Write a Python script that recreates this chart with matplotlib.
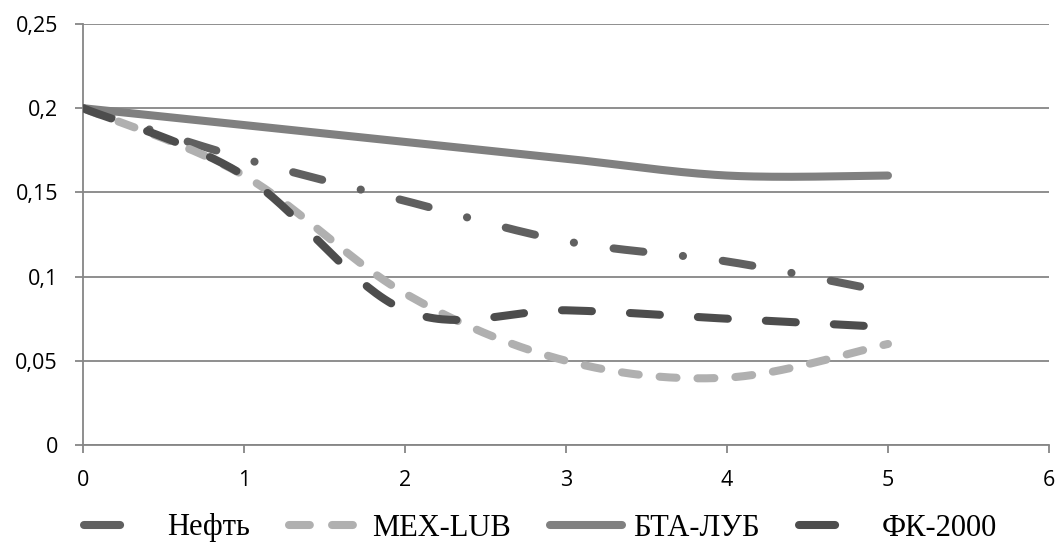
import numpy as np
import matplotlib
matplotlib.use("Agg")
import matplotlib.pyplot as plt
from matplotlib.ticker import FuncFormatter
from matplotlib.lines import Line2D

# values
x_neft = [0, 1, 2, 3, 4, 4.83]
y_neft = [0.2, 0.17, 0.145, 0.121, 0.109, 0.094]

x_std = [0, 1, 2, 3, 4, 5]
y_mex = [0.2, 0.16, 0.09, 0.05, 0.04, 0.06]
y_bta = [0.2, 0.19, 0.18, 0.17, 0.16, 0.16]
y_fk = [0.2, 0.16, 0.08, 0.08, 0.075, 0.07]

labels = ["Нефть", "MEX-LUB", "БТА-ЛУБ", "ФК-2000"]
colors = ["#606060", "#b0b0b0", "#808080", "#4d4d4d"]


# Excel-like smoothed line (Catmull-Rom through the points)
def smooth(xs, ys, n=40):
    p = np.column_stack([xs, ys]).astype(float)
    p = np.vstack([p[0], p, p[-1]])
    out = []
    for i in range(1, len(p) - 2):
        p0, p1, p2, p3 = p[i - 1], p[i], p[i + 1], p[i + 2]
        t = np.linspace(0, 1, n)[:, None]
        c = 0.5 * ((2 * p1) + (-p0 + p2) * t + (2 * p0 - 5 * p1 + 4 * p2 - p3) * t**2
                   + (-p0 + 3 * p1 - 3 * p2 + p3) * t**3)
        out.append(c if i == 1 else c[1:])
    c = np.vstack(out)
    return c[:, 0], c[:, 1]


plt.rcParams['lines.scale_dashes'] = False
plt.rcParams['font.family'] = ['Open Sans', 'DejaVu Sans']

fig = plt.figure(figsize=(10.6, 5.5), dpi=100)
ax = fig.add_axes([0.0783, 0.1909, 0.9113, 0.7655])

lw = 5.8
sx, sy = smooth(x_neft, y_neft)
ax.plot(sx, sy, color=colors[0], lw=lw, dash_capstyle="round",
        dashes=(21.6, 28.6, 0.1, 28.8), zorder=3)
sx, sy = smooth(x_std, y_mex)
ax.plot(sx, sy, color=colors[1], lw=lw, dash_capstyle="round",
        dashes=(12.2, 15.1), zorder=3)
sx, sy = smooth(x_std, y_bta)
ax.plot(sx, sy, color=colors[2], lw=lw, solid_capstyle="round", zorder=3)
sx, sy = smooth(x_std, y_fk)
ax.plot(sx, sy, color=colors[3], lw=lw, dash_capstyle="round",
        dashes=(21.6, 27.4), zorder=4)

ax.set_xlim(0, 6)
ax.set_ylim(0, 0.25)
ax.set_xticks(range(0, 7))
ax.set_yticks([0, 0.05, 0.1, 0.15, 0.2, 0.25])
ax.yaxis.set_major_formatter(FuncFormatter(lambda v, p: ("%g" % round(v, 2)).replace(".", ",")))

ax.grid(axis="y", color="#868686", lw=1.3)
ax.set_axisbelow(True)
for s in ["top", "right"]:
    ax.spines[s].set_visible(False)
for s in ["left", "bottom"]:
    ax.spines[s].set_color("#868686")
    ax.spines[s].set_linewidth(1.3)
ax.tick_params(axis="both", colors="#868686", width=1.3, length=6, labelcolor="black", labelsize=15.5)
ax.tick_params(axis="x", pad=12)
ax.tick_params(axis="y", pad=12)

# legend samples drawn the way the original shows them (short dashes)
handles = [
    Line2D([], [], color=colors[0], lw=lw, dash_capstyle="round", dashes=(26, 100)),
    Line2D([], [], color=colors[1], lw=lw, dash_capstyle="round", dashes=(15, 16)),
    Line2D([], [], color=colors[2], lw=lw, solid_capstyle="round"),
    Line2D([], [], color=colors[3], lw=lw, dash_capstyle="round", dashes=(26, 100)),
]
fig.legend(handles, labels, loc="center", bbox_to_anchor=(0.51, 0.04), ncol=4, frameon=False,
           prop={"family": "Liberation Serif", "size": 22}, handlelength=2.35,
           columnspacing=1.3, handletextpad=0.35)

fig.savefig("out.png", dpi=100)
